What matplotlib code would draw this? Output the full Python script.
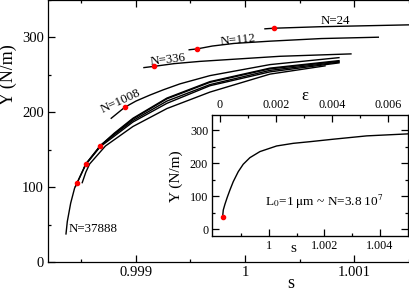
import matplotlib
matplotlib.use('Agg')
import matplotlib.pyplot as plt
from matplotlib.ticker import MultipleLocator, FixedLocator, FuncFormatter

plt.rcParams['font.family'] = ['Liberation Serif', 'DejaVu Serif']
plt.rcParams['mathtext.fontset'] = 'stix'

# main panel curves (strain s, tension Y in N/m)
s_N24 = [1.000183, 1.000266, 1.000688, 1.001505, 1.001800]
Y_N24 = [311.5, 312.3, 314.3, 316.8, 317.6]

s_N112 = [0.999488, 0.999562, 0.999700, 0.999900, 1.000229, 1.000700, 1.001223]
Y_N112 = [283.5, 284.7, 288.5, 292.0, 295.0, 298.5, 300.3]

s_N336 = [0.999073, 0.999168, 0.999350, 0.999587, 1.000321, 1.000972]
Y_N336 = [259.7, 261.4, 265.0, 268.0, 274.8, 278.0]

s_N1008 = [0.998773, 0.998896, 0.999000, 0.999128, 0.999250, 0.999404, 0.999679, 1.000229, 1.000862]
Y_N1008 = [192.0, 206.6, 215.0, 223.0, 230.0, 238.0, 249.0, 263.7, 273.0]

s_N37888 = [0.998358, 0.998370, 0.998401, 0.998437, 0.998459, 0.998539, 0.998672,
            0.998800, 0.998972, 0.999284, 0.999679, 1.000229, 1.000862]
Y_N37888 = [37.5, 54.0, 78.6, 98.7, 105.4, 130.8, 155.3,
            172.0, 192.0, 219.0, 241.0, 259.0, 269.0]

s_c2 = [0.998445, 0.998459, 0.998539, 0.998672, 0.998800, 0.998972, 0.999284, 0.999679, 1.000229, 1.000862]
Y_c2 = [101.0, 105.4, 130.0, 154.0, 168.0, 187.0, 212.0, 235.5, 254.0, 266.0]

s_c3 = [0.998525, 0.998539, 0.998672, 0.998800, 0.998972, 0.999284, 0.999679, 1.000229, 1.000862]
Y_c3 = [126.0, 130.8, 155.0, 171.0, 191.0, 218.0, 240.0, 258.0, 268.0]

s_c4 = [0.998650, 0.998672, 0.998800, 0.998972, 0.999284, 0.999679, 1.000229, 1.000862]
Y_c4 = [151.0, 155.3, 170.0, 189.0, 215.0, 237.0, 256.0, 267.0]

s_c5 = [0.998507, 0.998540, 0.998575, 0.998720, 0.998972, 0.999284, 0.999679, 1.000229, 1.000734]
Y_c5 = [106.0, 120.0, 131.0, 155.0, 181.0, 205.0, 227.0, 251.0, 262.0]

# red markers
s_red = [1.000266, 0.999562, 0.999168, 0.998896, 0.998672, 0.998539, 0.998459]
Y_red = [312.3, 284.7, 261.4, 206.6, 155.3, 130.8, 105.4]

# inset curve, L0 = 1 um
s_in = [0.998332, 0.998355, 0.998414, 0.998497, 0.998595, 0.998714, 0.998894, 0.999074,
        0.999315, 0.999676, 1.000277, 1.000876, 1.001477, 1.002317, 1.003521, 1.004990]
Y_in = [38.3, 58.7, 76.0, 97.0, 119.5, 144.7, 175.0, 197.6,
        217.6, 236.0, 253.0, 261.0, 266.0, 273.5, 283.6, 289.6]
s_in_red = [0.998332]
Y_in_red = [38.3]

W, H = 409, 291
fig = plt.figure(figsize=(W / 100, H / 100), dpi=100)

# main axes (right part cropped off the figure)
ax = fig.add_axes([48 / W, 1 - 262 / H, (534 - 48) / W, 262 / H])
curves = [(s_N24, Y_N24), (s_N112, Y_N112), (s_N336, Y_N336), (s_N1008, Y_N1008),
          (s_N37888, Y_N37888), (s_c2, Y_c2), (s_c3, Y_c3), (s_c4, Y_c4), (s_c5, Y_c5)]
for xs, ys in curves:
    ax.plot(xs, ys, color='black', lw=1.0)
ax.plot(s_red, Y_red, 'o', color='red', ms=3.0, mec='red', zorder=5)

ax.set_xlim(0.998193, 1.002651)
ax.set_ylim(0, 350)
ax.xaxis.set_major_locator(FixedLocator([0.999, 1.0, 1.001]))
ax.xaxis.set_minor_locator(MultipleLocator(0.0005))
ax.xaxis.set_major_formatter(FuncFormatter(lambda v, p: f'{v:g}'))
ax.yaxis.set_major_locator(MultipleLocator(100))
ax.yaxis.set_minor_locator(MultipleLocator(50))
ax.tick_params(which='both', direction='in', top=True, right=True, labelsize=10.5, pad=3, width=0.9)
ax.tick_params(which='major', length=5)
ax.tick_params(which='minor', length=2.5)
for sp in ax.spines.values():
    sp.set_linewidth(0.9)

lab = dict(fontsize=9.3, ha='center', va='center')
ax.text(1.000826, 322.2, 'N=24', **lab)
ax.text(0.999931, 296.6, 'N=112', rotation=6, **lab)
ax.text(0.999294, 269.8, 'N=336', rotation=7, **lab)
ax.text(0.998862, 215.0, 'N=1008', rotation=25, **lab)
ax.text(0.998378, 43.7, 'N=37888', fontsize=9.3, ha='left', va='center')

fig.text(8 / W, 1 - 75 / H, 'Y (N/m)', rotation=90, ha='center', va='center', fontsize=13)
fig.text(291 / W, 1 - 284 / H, 's', ha='center', va='center', fontsize=13)

# inset
axi = fig.add_axes([212.3 / W, 1 - 236 / H, 195.2 / W, 120.7 / H])
axi.plot(s_in, Y_in, color='black', lw=1.0)
axi.plot(s_in_red, Y_in_red, 'o', color='red', ms=3.0, mec='red', zorder=5)
axi.set_xlim(0.99796, 1.00499)
axi.set_ylim(-20, 346)
axi.xaxis.set_major_locator(FixedLocator([1.0, 1.002, 1.004]))
axi.xaxis.set_minor_locator(FixedLocator([0.999, 1.001, 1.003]))
axi.xaxis.set_major_formatter(FuncFormatter(lambda v, p: f'{v:g}'))
axi.yaxis.set_major_locator(MultipleLocator(100))
axi.yaxis.set_minor_locator(MultipleLocator(50))
axi.tick_params(which='both', direction='in', top=False, right=True, labelsize=8.7, pad=3, width=0.9)
axi.tick_params(which='major', length=5)
axi.tick_params(which='minor', length=2.5)
for sp in axi.spines.values():
    sp.set_linewidth(0.9)
axi.text(1.00198, 84, r'L$_0$=1 $\mathrm{\mu}$m ~ N=3.8 10$^7$', fontsize=9.5, ha='center', va='center')

axt = axi.twiny()
axt.set_xlim(-0.000275, 0.006684)
axt.xaxis.set_major_locator(FixedLocator([0, 0.002, 0.004, 0.006]))
axt.xaxis.set_minor_locator(FixedLocator([0.001, 0.003, 0.005]))
axt.xaxis.set_major_formatter(FuncFormatter(lambda v, p: f'{v:g}'))
axt.tick_params(which='both', direction='in', bottom=False, top=True, labelsize=8.7, pad=3, width=0.9)
axt.tick_params(which='major', length=5)
axt.tick_params(which='minor', length=2.5)

fig.text(176 / W, 1 - 176 / H, 'Y (N/m)', rotation=90, ha='center', va='center', fontsize=11)
fig.text(293 / W, 1 - 249 / H, 's', ha='center', va='center', fontsize=11)
fig.text(305 / W, 1 - 96 / H, 'ε', ha='center', va='center', fontsize=12)

fig.savefig('out.png', dpi=100)
